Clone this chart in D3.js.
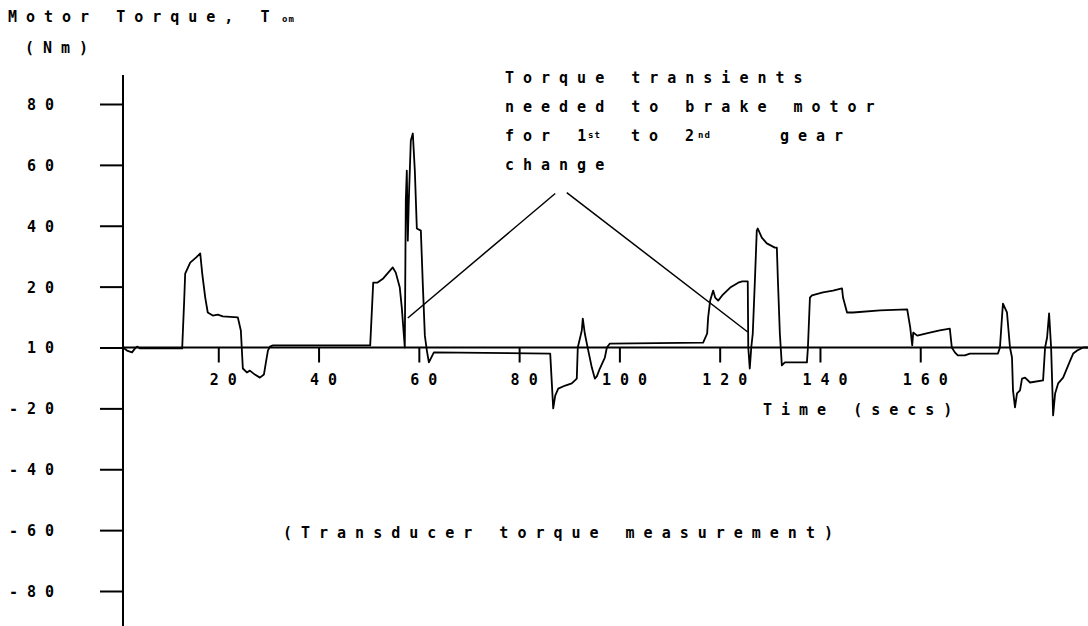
<!DOCTYPE html>
<html><head><meta charset="utf-8">
<script src="https://cdn.jsdelivr.net/npm/d3@7"></script>
<style>
body{margin:0;background:#fff;}
svg text{font-family:"DejaVu Sans Mono",monospace;font-weight:bold;font-size:15px;letter-spacing:9px;fill:#000;}
svg .sub{font-size:9px;letter-spacing:1px;}
svg .tight{letter-spacing:0px;}
</style></head><body><svg id="c" width="1088" height="626"></svg>
<script>
// ---- data (time in seconds, motor torque in Nm) ----
const timeSec=[1.0,1.8,2.8,3.4,3.8,4.4,12.8,13.2,13.4,14.4,15.6,16.4,16.8,17.4,17.9,18.9,19.9,20.9,23.9,24.5,24.9,25.7,26.3,27.3,28.3,29.1,29.5,29.9,30.3,30.9,
50.3,50.9,51.7,52.9,54.8,55.4,56.2,56.6,57.2,57.4,57.6,57.8,58.0,58.4,58.8,59.2,59.6,60.4,60.8,61.2,61.6,62.0,62.4,63.0,
86.2,86.8,87.2,87.8,89.2,90.5,91.5,91.7,92.5,92.7,93.1,93.7,94.5,95.1,95.5,96.1,97.1,97.5,98.1,
116.7,117.5,117.7,118.1,118.7,119.1,119.7,120.5,122.1,123.7,124.5,125.6,125.7,126.0,126.3,126.6,127.0,127.4,127.6,128.4,129.4,131.0,131.4,131.6,132.0,132.4,133.0,
137.4,137.6,138.0,138.4,140.6,142.6,144.4,144.6,145.4,146.6,152.0,157.4,158.0,158.4,158.6,159.4,161.9,163.9,165.9,166.3,166.9,167.5,168.9,169.9,
175.5,175.9,176.3,176.5,177.3,177.9,178.3,178.5,178.9,179.3,179.9,180.3,180.9,181.9,184.5,184.9,185.3,185.7,186.1,186.3,186.5,186.9,187.5,188.5,189.9,190.5,191.3,192.5,193.5];
const torqueNm=[0,-1.0,-1.6,-0.3,0.3,-0.3,-0.3,15.4,24.3,27.9,29.6,30.9,24.3,16.4,11.5,10.5,10.8,10.2,9.9,5.6,-6.9,-8.2,-7.6,-8.9,-9.9,-8.9,-4.9,-1.0,0.3,0.7,
0.7,21.3,21.3,22.7,26.3,24.6,19.7,13.1,0,48.3,58.1,35.1,48.3,68.0,70.3,58.1,39.1,38.4,20.4,3.9,-1.0,-4.9,-3.6,-1.6,
-2.0,-20.0,-15.8,-13.5,-12.5,-11.8,-10.2,0,5.6,9.5,4.6,-0.3,-6.6,-10.2,-9.5,-6.9,-3.3,0,1.3,
1.6,4.6,9.9,15.4,18.7,16.4,15.4,17.1,19.7,21.3,21.7,21.7,0,-6.9,0,4.6,21.0,38.4,39.1,36.1,34.2,32.8,32.8,22.7,4.6,-5.9,-4.9,
-4.9,0,16.4,17.1,18.1,18.7,19.4,16.4,11.5,11.5,12.2,12.5,6.6,0.7,4.9,3.9,4.9,5.6,6.2,0,-1.6,-2.6,-2.6,-2.0,
-2.0,0,9.9,14.4,11.5,0,-3.3,-14.1,-19.7,-15.1,-14.1,-10.2,-9.9,-11.5,-10.8,0,3.3,11.2,0,-10.8,-22.3,-15.1,-11.8,-9.9,-4.3,-2.0,-1.0,0,0];
const xTickValues=[20,40,60,80,100,120,140,160];
const xTickLabels=["20","40","60","80","100","120","140","160"];
const yTickValues=[80,60,40,20,0,-20,-40,-60,-80];
const yTickLabels=["80","60","40","20","10","-20","-40","-60","-80"];
// callout lines: [start(time,torque), apex(time,torque)]
const calloutLeft=[[57.8,9.7],[87.2,50.6]];
const calloutRight=[[89.5,50.9],[125.6,5.1]];

const svg=d3.select("#c");
const x=d3.scaleLinear().domain([0,200]).range([118,1120.8]);
const y=d3.scaleLinear().domain([-80,80]).range([591,104]);
const axisX=123;

// y axis
const gy=svg.append("g").attr("transform",`translate(${axisX},0)`)
  .call(d3.axisLeft(y).tickValues(yTickValues).tickSize(23).tickFormat((d,i)=>yTickLabels[i]));
gy.select(".domain").remove();
gy.selectAll(".tick line").attr("stroke","#000").attr("stroke-width",2);
gy.selectAll(".tick text").attr("text-anchor","start")
  .attr("x",function(d,i){return 45-(yTickLabels[i].length-1)*18-axisX;})
  .attr("dy","0.36em").attr("font-size",null).attr("font-family",null);
svg.append("line").attr("x1",axisX).attr("x2",axisX).attr("y1",75).attr("y2",626)
  .attr("stroke","#000").attr("stroke-width",2);

// x axis
const gx=svg.append("g").attr("transform",`translate(0,${y(0)})`)
  .call(d3.axisBottom(x).tickValues(xTickValues).tickSize(15).tickFormat((d,i)=>xTickLabels[i]));
gx.select(".domain").remove();
gx.selectAll(".tick line").attr("stroke","#000").attr("stroke-width",2);
gx.selectAll(".tick text").attr("text-anchor","start")
  .attr("x",function(d,i){return -(xTickLabels[i].length*18-8)/2+5;})
  .attr("y",37).attr("dy",null).attr("font-size",null).attr("font-family",null);
svg.append("line").attr("x1",axisX).attr("x2",1088).attr("y1",y(0)).attr("y2",y(0))
  .attr("stroke","#000").attr("stroke-width",2);

// data line
const pts=timeSec.map((t,i)=>[t,torqueNm[i]]);
svg.append("path").datum(pts)
  .attr("d",d3.line().x(d=>x(d[0])).y(d=>y(d[1])))
  .attr("fill","none").attr("stroke","#000").attr("stroke-width",1.8).attr("stroke-linejoin","round");

// callout lines
[calloutLeft,calloutRight].forEach(c=>{
  svg.append("line").attr("x1",x(c[0][0])).attr("y1",y(c[0][1])).attr("x2",x(c[1][0])).attr("y2",y(c[1][1]))
    .attr("stroke","#000").attr("stroke-width",1.5);
});

// texts
const title=svg.append("text").attr("x",8).attr("y",22);
title.append("tspan").text("Motor Torque, ");
title.append("tspan").attr("class","tight").text("T");
title.append("tspan").attr("class","sub").attr("x",282).text("om");
svg.append("text").attr("x",25).attr("y",53).text("(Nm)");

svg.append("text").attr("x",505).attr("y",83).text("Torque transients");
svg.append("text").attr("x",505).attr("y",112).text("needed to brake motor");
const l3=svg.append("text").attr("x",505).attr("y",141);
l3.append("tspan").text("for ");
l3.append("tspan").attr("class","tight").text("1");
l3.append("tspan").attr("class","sub").attr("x",588).attr("y",138).text("st");
l3.append("tspan").attr("x",631).attr("y",141).text("to ");
l3.append("tspan").attr("class","tight").text("2");
l3.append("tspan").attr("class","sub").attr("x",698).attr("y",138).text("nd");
l3.append("tspan").attr("x",780).attr("y",141).text("gear");
svg.append("text").attr("x",505).attr("y",170).text("change");

svg.append("text").attr("x",763).attr("y",415).text("Time (secs)");
svg.append("text").attr("x",283).attr("y",538).text("(Transducer torque measurement)");
</script></body></html>
